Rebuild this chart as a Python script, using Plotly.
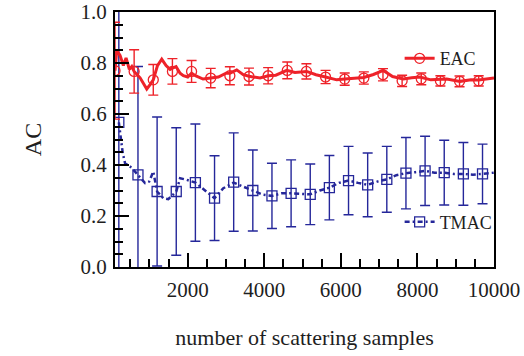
import plotly.graph_objects as go

# ---------------- data ----------------
# EAC continuous curve
eac_line_x = [100, 146, 232, 319, 389, 475, 538, 600, 755, 930, 1016, 1100, 1210, 1321, 1434,
              1538, 1600, 1695, 1800, 1886, 2000, 2100, 2200, 2400, 2600, 2800, 3000, 3100,
              3280, 3450, 3600, 3889, 4100, 4300, 4586, 4800, 5108, 5350, 5600, 5892, 6100,
              6400, 6600, 6850, 7109, 7350, 7631, 7850, 8067, 8350, 8600, 8765, 9112, 9400,
              9600, 9809, 10000]
eac_line_y = [0.77, 0.85, 0.83, 0.79, 0.82, 0.775, 0.786, 0.767, 0.742, 0.698, 0.715, 0.734,
              0.79, 0.815, 0.79, 0.775, 0.78, 0.786, 0.76, 0.75, 0.745, 0.76, 0.75, 0.737,
              0.741, 0.745, 0.76, 0.76, 0.773, 0.754, 0.748, 0.741, 0.75, 0.752, 0.771, 0.763,
              0.767, 0.754, 0.745, 0.734, 0.737, 0.742, 0.743, 0.755, 0.771, 0.747, 0.737,
              0.742, 0.745, 0.734, 0.735, 0.737, 0.728, 0.734, 0.733, 0.737, 0.741]

# EAC sampled points with error bars
eac_pts_x = [100, 600, 1100, 1600, 2100, 2600, 3100, 3600, 4100, 4600,
             5100, 5600, 6100, 6600, 7100, 7600, 8100, 8600, 9100, 9600]
eac_pts_y = [0.77, 0.767, 0.734, 0.767, 0.767, 0.741, 0.75, 0.747, 0.75, 0.771,
             0.767, 0.745, 0.737, 0.741, 0.754, 0.73, 0.738, 0.73, 0.728, 0.73]
eac_err = [0.19, 0.085, 0.06, 0.05, 0.043, 0.038, 0.035, 0.033, 0.032, 0.033,
           0.03, 0.026, 0.024, 0.024, 0.024, 0.022, 0.023, 0.02, 0.021, 0.02]

# TMAC continuous curve
tmac_line_x = [200, 303, 363, 493, 624, 700, 885, 992, 1100, 1200, 1363, 1493, 1700, 1800,
               1974, 2200, 2496, 2700, 2930, 3200, 3453, 3700, 3975, 4200, 4455, 4700, 5020,
               5200, 5450, 5700, 5950, 6200, 6450, 6700, 6950, 7200, 7450, 7700, 7950, 8200,
               8450, 8700, 8950, 9200, 9450, 9700, 10000]
tmac_line_y = [0.567, 0.446, 0.407, 0.394, 0.374, 0.361, 0.329, 0.335, 0.374, 0.296, 0.27,
               0.266, 0.296, 0.348, 0.342, 0.331, 0.296, 0.27, 0.309, 0.331, 0.315, 0.30,
               0.283, 0.279, 0.289, 0.289, 0.287, 0.285, 0.30, 0.311, 0.33, 0.339, 0.33,
               0.322, 0.335, 0.344, 0.36, 0.368, 0.372, 0.377, 0.37, 0.37, 0.365, 0.365,
               0.362, 0.365, 0.37]

# TMAC sampled points with error bars
tmac_pts_x = [200, 700, 1200, 1700, 2200, 2700, 3200, 3700, 4200, 4700,
              5200, 5700, 6200, 6700, 7200, 7700, 8200, 8700, 9200, 9700]
tmac_pts_y = [0.567, 0.361, 0.296, 0.296, 0.331, 0.27, 0.333, 0.30, 0.279, 0.289,
              0.285, 0.311, 0.339, 0.322, 0.344, 0.368, 0.377, 0.37, 0.365, 0.365]
tmac_err = [0.65, 0.425, 0.292, 0.25, 0.23, 0.166, 0.193, 0.159, 0.128, 0.131,
            0.119, 0.126, 0.134, 0.125, 0.129, 0.14, 0.136, 0.127, 0.123, 0.117]

x_tick_vals = [2000, 4000, 6000, 8000, 10000]
y_tick_vals = [0.0, 0.2, 0.4, 0.6, 0.8, 1.0]

RED = "#ee2229"
BLUE = "#25279a"
FONT = "Liberation Serif, Times New Roman, serif"
TXT = "#1e1e1e"

fig = go.Figure()

# TMAC
fig.add_trace(go.Scatter(x=tmac_pts_x, y=tmac_pts_y, mode="markers", showlegend=False,
                         marker=dict(symbol="square-open", size=10, color=BLUE,
                                     line=dict(width=1.3, color=BLUE)),
                         error_y=dict(type="data", array=tmac_err, visible=True,
                                      color=BLUE, thickness=1.4, width=5)))
fig.add_trace(go.Scatter(x=tmac_line_x, y=tmac_line_y, mode="lines", showlegend=False,
                         line=dict(color=BLUE, width=2.5, dash="5px,3px,2px,3px")))

# EAC
fig.add_trace(go.Scatter(x=eac_pts_x, y=eac_pts_y, mode="markers", showlegend=False,
                         marker=dict(symbol="circle-open", size=10, color=RED,
                                     line=dict(width=1.3, color=RED)),
                         error_y=dict(type="data", array=eac_err, visible=True,
                                      color=RED, thickness=1.4, width=5)))
fig.add_trace(go.Scatter(x=eac_line_x, y=eac_line_y, mode="lines", showlegend=False,
                         line=dict(color=RED, width=3)))

# legend entries
fig.add_trace(go.Scatter(x=[None], y=[None], mode="lines+markers", name="EAC",
                         legend="legend",
                         line=dict(color=RED, width=3),
                         marker=dict(symbol="circle-open", size=10, color=RED,
                                     line=dict(width=1.3, color=RED))))
fig.add_trace(go.Scatter(x=[None], y=[None], mode="lines+markers", name="TMAC",
                         legend="legend2",
                         line=dict(color=BLUE, width=2.5, dash="5px,3px,2px,3px"),
                         marker=dict(symbol="square-open", size=10, color=BLUE,
                                     line=dict(width=1.3, color=BLUE))))

axis_common = dict(showline=True, linecolor="black", linewidth=2, mirror=True,
                   ticks="inside", ticklen=14, tickwidth=2, tickcolor="black",
                   showgrid=False, zeroline=False, automargin=False,
                   tickfont=dict(family=FONT, size=21, color=TXT))

fig.update_xaxes(range=[100, 10000], tickvals=x_tick_vals,
                 ticktext=[str(v) for v in x_tick_vals],
                 minor=dict(dtick=500, tick0=0, ticks="inside", ticklen=8, tickwidth=2,
                            tickcolor="black", showgrid=False),
                 title=dict(text="number of scattering samples",
                            font=dict(family=FONT, size=22, color=TXT), standoff=28),
                 ticklabelstandoff=3,
                 **axis_common)
fig.update_yaxes(range=[0, 1.0], tickvals=y_tick_vals,
                 ticktext=[f"{v:.1f}" for v in y_tick_vals],
                 minor=dict(dtick=0.05, tick0=0, ticks="inside", ticklen=8, tickwidth=2,
                            tickcolor="black", showgrid=False),
                 title=dict(text="AC", font=dict(family=FONT, size=24, color=TXT),
                            standoff=32),
                 ticklabelstandoff=2,
                 **axis_common)

fig.update_layout(
    width=524, height=356,
    margin=dict(l=115, r=29.5, t=12, b=89),
    paper_bgcolor="white", plot_bgcolor="white",
    font=dict(family=FONT, color=TXT),
    legend=dict(x=0.751, y=0.817, xanchor="left", yanchor="middle",
                bgcolor="rgba(0,0,0,0)", font=dict(family=FONT, size=18, color=TXT),
                itemwidth=30),
    legend2=dict(x=0.751, y=0.176, xanchor="left", yanchor="middle",
                 bgcolor="rgba(0,0,0,0)", font=dict(family=FONT, size=18, color=TXT),
                 itemwidth=30),
)

fig.write_html("out.html")
